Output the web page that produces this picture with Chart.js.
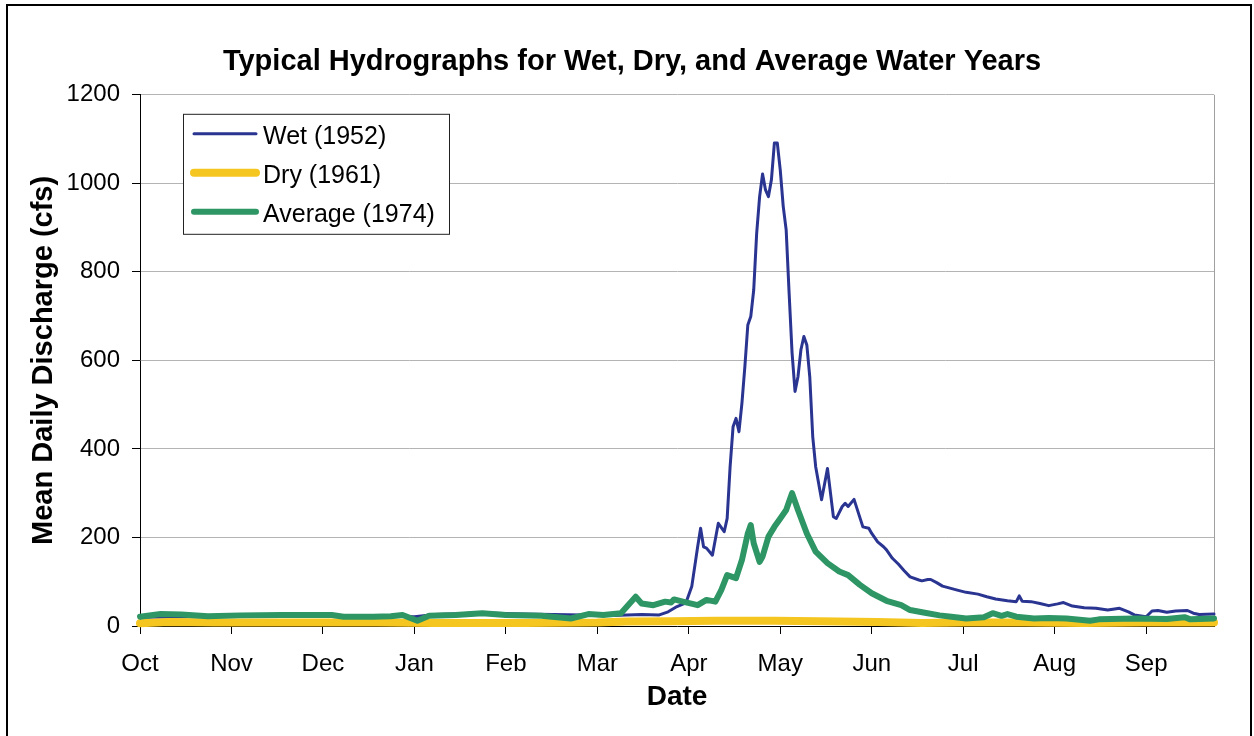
<!DOCTYPE html>
<html>
<head>
<meta charset="utf-8">
<title>Typical Hydrographs</title>
<script src="https://cdn.jsdelivr.net/npm/chart.js@4.4.1/dist/chart.umd.min.js"></script>
<style>
  html, body { margin: 0; padding: 0; background: #fff; }
  #wrap { width: 1254px; height: 736px; }
</style>
</head>
<body>
<div id="wrap"><canvas id="hydro" width="1254" height="736"></canvas></div>
<script>
// Day of water year (0 = Oct 1) and mean daily discharge (cfs)
const months = ['Oct', 'Nov', 'Dec', 'Jan', 'Feb', 'Mar', 'Apr', 'May', 'Jun', 'Jul', 'Aug', 'Sep'];
const yTicks = [0, 200, 400, 600, 800, 1000, 1200];

const wetDay = [0, 20, 40, 60, 75, 85, 93, 100, 110, 115, 120, 130, 140, 150, 160, 170, 176, 179, 182, 185,
  187, 189, 190, 191, 192, 194, 196, 198, 199, 200, 201, 202, 203, 204, 205, 206, 207, 208, 209, 210,
  211, 212, 213, 214, 215, 216, 217, 218, 219, 220, 221, 222, 223, 224, 225, 226, 227, 228, 229, 231,
  233, 235, 236, 238, 239, 240, 242, 245, 247, 248, 250, 252, 253, 255, 257, 259, 261, 264, 265, 267,
  268, 270, 272, 277, 280, 284, 287, 290, 294, 297, 298, 299, 302, 305, 308, 311, 313, 316, 320, 324,
  328, 332, 335, 337, 341, 343, 345, 348, 351, 355, 357, 359, 364];
const wetCfs = [20, 21, 23, 24, 23, 22, 21, 26, 28, 30, 29, 27, 26, 25, 24, 26, 25, 32, 44, 52,
  89, 179, 221, 179, 176, 160, 232, 213, 243, 360, 450, 469, 439, 503, 586, 680, 699, 759, 887, 970,
  1021, 985, 970, 1008, 1091, 1091, 1030, 948, 895, 752, 617, 530, 563, 624, 654, 635, 563, 428, 360, 285,
  356, 247, 243, 270, 277, 270, 286, 224, 221, 209, 190, 179, 172, 153, 140, 125, 111, 104, 102, 105,
  105, 98, 90, 81, 76, 72, 66, 61, 57, 55, 68, 56, 55, 51, 46, 50, 53, 45, 41, 40,
  36, 40, 32, 25, 21, 34, 35, 31, 34, 35, 29, 26, 27];

const dryDay = [0, 10, 25, 50, 80, 100, 130, 155, 165, 180, 195, 215, 230, 250, 265, 280, 300, 320, 340, 364];
const dryCfs = [6, 9, 8, 8, 8, 7, 7, 8, 10, 11, 12, 12, 11, 9, 7, 8, 8, 7, 8, 8];

const avgDay = [0, 7, 14, 23, 34, 48, 65, 69, 79, 85, 89, 94, 98, 107, 116, 124, 136, 146, 152, 157,
  163, 168, 170, 174, 178, 180, 181, 184, 189, 192, 195, 197, 199, 202, 204, 206, 207, 208, 210, 211,
  213, 215, 217, 219, 220, 221, 223, 226, 229, 233, 237, 240, 244, 248, 253, 258, 261, 266, 271, 275,
  280, 286, 289, 292, 294, 297, 303, 308, 314, 322, 325, 337, 348, 354, 356, 364];
const avgCfs = [21, 27, 26, 22, 24, 25, 25, 21, 21, 22, 25, 12, 23, 25, 29, 25, 23, 17, 27, 25,
  29, 66, 51, 47, 55, 53, 60, 55, 47, 59, 55, 81, 115, 108, 149, 209, 228, 187, 145, 157,
  202, 224, 243, 262, 281, 300, 262, 209, 168, 142, 123, 115, 93, 74, 57, 47, 36, 30, 24, 21,
  17, 20, 29, 23, 27, 21, 17, 18, 17, 12, 15, 17, 16, 20, 15, 17];

function pairs(days, values) {
  return days.map((d, i) => ({ x: d, y: values[i] }));
}

const FONT = '"Liberation Sans", Arial, sans-serif';

// White page with the black outer frame and the gray plot-area edge
const framePlugin = {
  id: 'frame',
  beforeDraw(chart) {
    const ctx = chart.ctx;
    ctx.save();
    ctx.fillStyle = '#fff';
    ctx.fillRect(0, 0, chart.width, chart.height);
    ctx.strokeStyle = '#000';
    ctx.lineWidth = 2;
    ctx.strokeRect(7, 5, 1244, 800);
    ctx.restore();
  },
  beforeDatasetsDraw(chart) {
    const { ctx, chartArea } = chart;
    ctx.save();
    ctx.strokeStyle = '#a0a0a0';
    ctx.lineWidth = 1;
    ctx.beginPath();
    ctx.moveTo(chartArea.right + 0.5, chartArea.top);
    ctx.lineTo(chartArea.right + 0.5, chartArea.bottom);
    ctx.stroke();
    ctx.restore();
  }
};

// Excel-like boxed legend sitting inside the plot area
const boxLegend = {
  id: 'boxLegend',
  afterDatasetsDraw(chart) {
    const ctx = chart.ctx;
    const left = chart.chartArea.left + 43;
    const top = chart.chartArea.top + 19;
    ctx.save();
    ctx.fillStyle = '#fff';
    ctx.fillRect(left, top, 266, 120);
    ctx.strokeStyle = '#222';
    ctx.lineWidth = 1;
    ctx.strokeRect(left + 0.5, top + 0.5, 266, 120);
    ctx.font = '25px ' + FONT;
    ctx.textBaseline = 'alphabetic';
    chart.data.datasets.forEach((ds, i) => {
      const y = top + 20 + i * 39;
      ctx.strokeStyle = ds.borderColor;
      ctx.lineWidth = ds.legendWidth;
      ctx.lineCap = 'round';
      ctx.beginPath();
      ctx.moveTo(left + 11, y);
      ctx.lineTo(left + 73, y);
      ctx.stroke();
      ctx.fillStyle = '#000';
      ctx.fillText(ds.label, left + 80, y + 10);
    });
    ctx.restore();
  }
};

const ctx = document.getElementById('hydro');
const hydroChart = new Chart(ctx, {
  type: 'line',
  data: {
    datasets: [{
      label: 'Wet (1952)',
      data: pairs(wetDay, wetCfs),
      borderColor: '#2A3491',
      borderWidth: 3,
      legendWidth: 3,
      order: 3
    }, {
      label: 'Dry (1961)',
      data: pairs(dryDay, dryCfs),
      borderColor: '#F6C620',
      borderWidth: 8,
      legendWidth: 8,
      order: 2
    }, {
      label: 'Average (1974)',
      data: pairs(avgDay, avgCfs),
      borderColor: '#2E9664',
      borderWidth: 6,
      legendWidth: 6,
      order: 1
    }]
  },
  options: {
    responsive: false,
    animation: false,
    events: [],
    // left/right padding keeps the main title centred where the original has it
    layout: { padding: { left: 50, right: 40, top: 0, bottom: 0 } },
    elements: {
      point: { radius: 0 },
      line: { tension: 0, borderJoinStyle: 'round', borderCapStyle: 'round' }
    },
    datasets: { line: { clip: 10 } },
    plugins: {
      legend: { display: false },
      tooltip: { enabled: false },
      title: {
        display: true,
        text: 'Typical Hydrographs for Wet, Dry, and Average Water Years',
        color: '#000',
        font: { family: FONT, size: 29, weight: 'bold', lineHeight: 1.2 },
        padding: { top: 45, bottom: 15 }
      }
    },
    scales: {
      x: {
        type: 'linear',
        min: 0,
        max: 364,
        afterFit(scale) { scale.height = 110; },
        border: { color: '#000', width: 1 },
        grid: { drawOnChartArea: false, drawTicks: true, tickLength: 8, tickColor: '#000' },
        ticks: {
          stepSize: 31,
          includeBounds: false,
          autoSkip: false,
          maxRotation: 0,
          padding: 16,
          color: '#000',
          font: { family: FONT, size: 24 },
          callback: (v) => months[Math.round(v / 31)]
        },
        title: {
          display: true,
          text: 'Date',
          color: '#000',
          font: { family: FONT, size: 28, weight: 'bold', lineHeight: 1.2 },
          padding: { top: 0, bottom: 22 }
        }
      },
      y: {
        min: yTicks[0],
        max: yTicks[yTicks.length - 1],
        afterFit(scale) { scale.width = 90; },
        afterBuildTicks(scale) { scale.ticks = yTicks.map(v => ({ value: v })); },
        border: { color: '#000', width: 1 },
        grid: { color: '#b4b4b4', lineWidth: 1, tickLength: 8, tickColor: '#000' },
        ticks: {
          padding: 12,
          color: '#000',
          font: { family: FONT, size: 24 },
          callback: (v) => String(v)
        },
        title: {
          display: true,
          text: 'Mean Daily Discharge (cfs)',
          color: '#000',
          font: { family: FONT, size: 29, weight: 'bold', lineHeight: 1.2 },
          padding: { top: -23, bottom: 0 }
        }
      }
    }
  },
  plugins: [framePlugin, boxLegend]
});
</script>
</body>
</html>
